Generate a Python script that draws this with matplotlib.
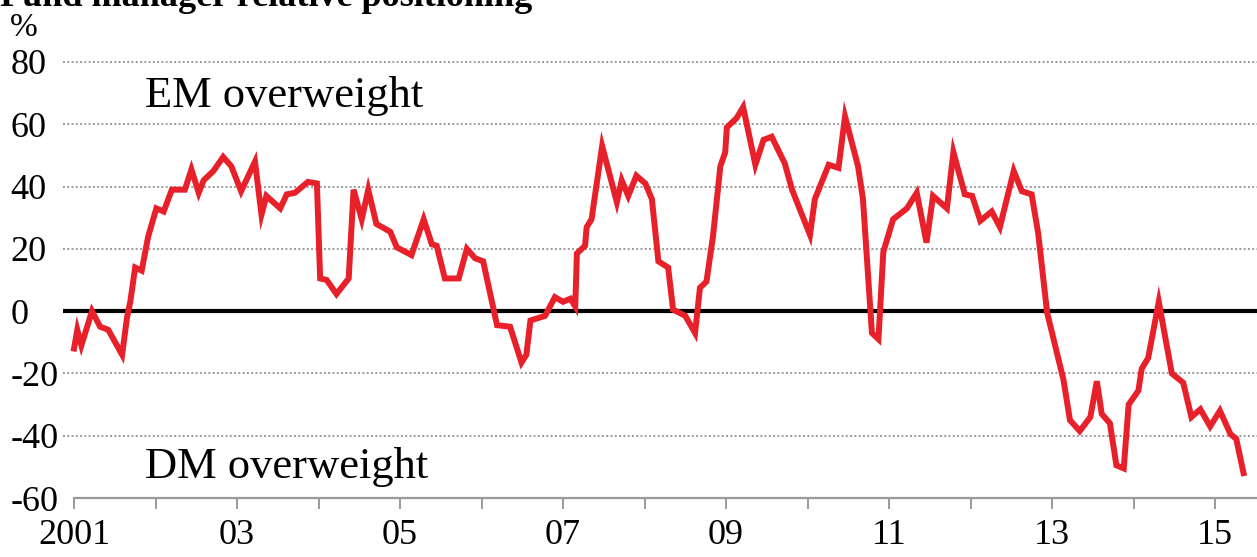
import matplotlib
matplotlib.use("Agg")
import matplotlib.pyplot as plt

# fund manager relative positioning, EM vs DM (% net overweight)
years = [2001.00, 2001.04, 2001.09, 2001.22, 2001.32, 2001.42, 2001.59, 2001.65, 2001.69, 2001.75,
         2001.83, 2001.91, 2002.01, 2002.10, 2002.20, 2002.36, 2002.44, 2002.53, 2002.59, 2002.71,
         2002.83, 2002.93, 2003.05, 2003.22, 2003.30, 2003.36, 2003.53, 2003.61, 2003.71, 2003.87,
         2003.98, 2004.02, 2004.10, 2004.22, 2004.37, 2004.43, 2004.53, 2004.61, 2004.71, 2004.88,
         2004.96, 2005.14, 2005.29, 2005.39, 2005.45, 2005.55, 2005.72, 2005.82, 2005.92, 2006.02,
         2006.19, 2006.35, 2006.49, 2006.55, 2006.60, 2006.78, 2006.90, 2007.00, 2007.09, 2007.15,
         2007.17, 2007.27, 2007.29, 2007.35, 2007.48, 2007.66, 2007.72, 2007.80, 2007.90, 2008.01,
         2008.09, 2008.17, 2008.29, 2008.35, 2008.50, 2008.62, 2008.68, 2008.76, 2008.84, 2008.93,
         2008.99, 2009.01, 2009.13, 2009.21, 2009.36, 2009.46, 2009.56, 2009.72, 2009.81, 2010.03,
         2010.09, 2010.26, 2010.38, 2010.46, 2010.62, 2010.68, 2010.79, 2010.87, 2010.93, 2011.05,
         2011.22, 2011.34, 2011.46, 2011.54, 2011.71, 2011.79, 2011.93, 2012.02, 2012.12, 2012.26,
         2012.36, 2012.53, 2012.63, 2012.75, 2012.83, 2012.94, 2013.14, 2013.22, 2013.34, 2013.47,
         2013.55, 2013.61, 2013.71, 2013.79, 2013.88, 2013.94, 2014.06, 2014.10, 2014.18, 2014.31,
         2014.47, 2014.61, 2014.71, 2014.82, 2014.94, 2015.06, 2015.19, 2015.26, 2015.35]
values = [-12, -6, -11, 0, -5, -6, -14, -2, 3, 14,
          13, 24, 33, 32, 39, 39, 45.5, 38, 42, 45,
          49.5, 46.5, 38.5, 48, 31, 37, 33, 37.5, 38, 41.5,
          41, 10.5, 10, 5.5, 10.5, 39, 29.5, 39, 28, 25.5,
          20.5, 18, 29.5, 21.5, 21, 10.5, 10.5, 20, 17, 16,
          -4.5, -5, -16.5, -14, -3, -1.5, 4.5, 3, 4, 1.5,
          18.5, 21, 27, 29.5, 53, 35, 42, 37, 43.5, 41,
          36, 16, 14, 0.5, -1.5, -7, 7.5, 9.5, 24, 46.5,
          51, 59, 62, 65.5, 47, 55, 56, 47.5, 39, 24.5,
          36, 47, 46, 62.5, 46.5, 36, -7, -9, 19, 29.5,
          33, 38, 22, 37, 33, 51, 37.5, 37, 29, 32,
          27, 45, 38.5, 37.5, 25, -0.5, -22, -35, -38.5, -34,
          -22.5, -33, -36, -49.5, -50.5, -30, -25.5, -18.5, -15, 3,
          -20, -23, -34, -31.5, -37, -32, -39.5, -41, -52]

yticks = [-60, -40, -20, 0, 20, 40, 60, 80]
xlabel_years = [2001, 2003, 2005, 2007, 2009, 2011, 2013, 2015]
xlabels = ["2001", "03", "05", "07", "09", "11", "13", "15"]

serif = "Liberation Serif"
red = "#e8202a"
grey = "#9a9a9a"

fig = plt.figure(figsize=(12.57, 5.57), dpi=100)
ax = fig.add_axes([0.0589, 0.1059, 0.9411, 0.7828])
ax.set_xlim(2001, 2015.515)
ax.set_ylim(-60, 80)

# dotted gridlines, reaching a little left of the axis
for y in yticks[1:]:
    if y == 0:
        continue
    ax.plot([-0.009, 1], [y, y], transform=ax.get_yaxis_transform(), color=grey,
            lw=1.4, ls=(0, (1, 1.2)), clip_on=False, zorder=1)
ax.plot([-0.009, 1], [0, 0], transform=ax.get_yaxis_transform(), color="black",
        lw=3, clip_on=False, zorder=2, solid_capstyle="butt")

ax.plot(years, values, color=red, lw=4.3, zorder=3, solid_joinstyle="miter", clip_on=False)

for s in ["top", "right", "left"]:
    ax.spines[s].set_visible(False)
ax.spines["bottom"].set_color(grey)
ax.spines["bottom"].set_linewidth(1.6)

ax.set_xticks(range(2001, 2016), minor=True)
ax.set_xticks(xlabel_years)
ax.set_xticklabels(xlabels)
ax.tick_params(axis="x", which="both", length=8, width=1.4, color=grey, direction="out")
ax.tick_params(axis="x", which="major", pad=7, labelsize=26)
for lab in ax.get_xticklabels():
    lab.set_fontfamily(serif)

ax.set_yticks(yticks)
ax.set_yticklabels([str(v) for v in yticks])
ax.tick_params(axis="y", length=0, pad=46, labelsize=26)
for lab in ax.get_yticklabels():
    lab.set_fontfamily(serif)
    lab.set_horizontalalignment("left")

ax.text(2001.87, 65.4, "EM overweight", fontsize=32, family=serif, va="baseline")
ax.text(2001.87, -53.5, "DM overweight", fontsize=32, family=serif, va="baseline")

fig.text(0.008, 0.935, "%", fontsize=24, family=serif, va="baseline")
# headline sits mostly above the crop, as in the source image
fig.text(0.0, 0.99, "Fund manager relative positioning", fontsize=26, family=serif,
         weight="bold", va="baseline")

fig.savefig("out.png", dpi=100)
